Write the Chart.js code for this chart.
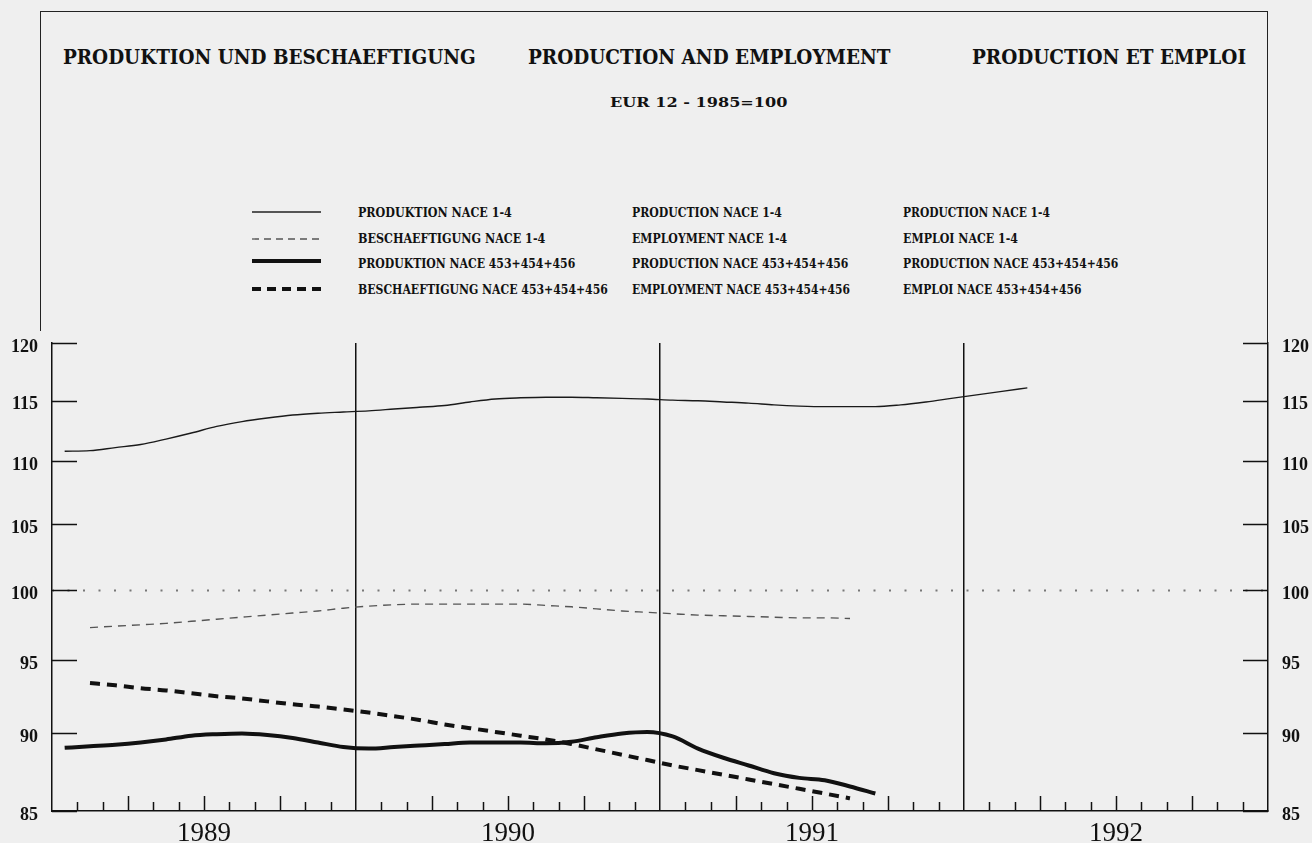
<!DOCTYPE html>
<html>
<head>
<meta charset="utf-8">
<script src="https://cdn.jsdelivr.net/npm/chart.js@4.4.1/dist/chart.umd.min.js"></script>
<style>
html,body{margin:0;padding:0;background:#efefef;width:1312px;height:843px;overflow:hidden;}
#wrap{position:relative;width:1312px;height:843px;}
#c{position:absolute;left:0;top:0;}
.t{position:absolute;white-space:nowrap;font-family:"DejaVu Serif",serif;font-weight:bold;color:#111;transform-origin:0 50%;}
.title{font-size:20px;line-height:24px;}
.sub{font-size:13px;line-height:16px;}
.leg{font-size:12px;line-height:14px;}
.frame{position:absolute;border-color:#222;border-style:solid;border-width:0;}
svg{position:absolute;left:0;top:0;}
</style>
</head>
<body>
<div id="wrap">
  <div class="frame" style="left:40px;top:11px;width:1228px;height:0;border-top-width:1.5px;"></div>
  <div class="frame" style="left:40px;top:11px;width:0;height:320px;border-left-width:1.5px;"></div>
  <div class="frame" style="left:1267px;top:11px;width:0;height:333px;border-left-width:1.5px;"></div>
  <div id="texts"></div>
  <svg id="samples" width="1312" height="843"></svg>
  <canvas id="c" width="1312" height="843"></canvas>
</div>
<script>
// ---------- data ----------
const TITLES = ['PRODUKTION UND BESCHAEFTIGUNG', 'PRODUCTION AND EMPLOYMENT', 'PRODUCTION ET EMPLOI'];
const SUBTITLE = 'EUR 12  -  1985=100';
const LABELS_DE = ['PRODUKTION NACE 1-4', 'BESCHAEFTIGUNG NACE 1-4', 'PRODUKTION NACE 453+454+456', 'BESCHAEFTIGUNG NACE 453+454+456'];
const LABELS_EN = ['PRODUCTION NACE 1-4', 'EMPLOYMENT NACE 1-4', 'PRODUCTION NACE 453+454+456', 'EMPLOYMENT NACE 453+454+456'];
const LABELS_FR = ['PRODUCTION NACE 1-4', 'EMPLOI NACE 1-4', 'PRODUCTION NACE 453+454+456', 'EMPLOI NACE 453+454+456'];
const YEARS = ['1989', '1990', '1991', '1992'];
const Y_TICKS = [85, 90, 95, 100, 105, 110, 115, 120];
const BASE_INDEX = 100;

// monthly values; first value belongs to the month index given by *_START (0 = Jan 1989)
const PROD_NACE14_START = 0;
const prodNace14 = [110.8, 110.85, 111.1, 111.35, 111.8, 112.3, 112.85, 113.25, 113.55, 113.8,
  113.95, 114.05, 114.15, 114.3, 114.45, 114.6, 114.9, 115.15, 115.25, 115.3,
  115.3, 115.25, 115.2, 115.15, 115.05, 115.0, 114.9, 114.8, 114.65, 114.55,
  114.5, 114.5, 114.5, 114.65, 114.9, 115.2, 115.5, 115.8, 116.1];

const EMP_NACE14_START = 1;
const empNace14 = [97.3, 97.4, 97.5, 97.6, 97.75, 97.9, 98.05, 98.2, 98.35, 98.5,
  98.7, 98.85, 98.95, 99.0, 99.0, 99.0, 99.0, 99.0, 98.9, 98.8,
  98.65, 98.5, 98.4, 98.3, 98.2, 98.15, 98.1, 98.05, 98.0, 98.0, 97.95];

const PROD_453_START = 0;
const prod453 = [89.05, 89.15, 89.25, 89.4, 89.6, 89.85, 89.95, 90.0, 89.9, 89.7,
  89.4, 89.1, 89.0, 89.1, 89.2, 89.3, 89.4, 89.4, 89.4, 89.35,
  89.45, 89.75, 90.0, 90.1, 89.8, 89.0, 88.4, 87.9, 87.4, 87.1,
  86.95, 86.55, 86.1];

const EMP_453_START = 1;
const emp453 = [93.4, 93.25, 93.05, 92.9, 92.7, 92.5, 92.35, 92.15, 91.95, 91.8,
  91.6, 91.4, 91.15, 90.9, 90.6, 90.35, 90.1, 89.85, 89.6, 89.3,
  88.95, 88.6, 88.25, 87.9, 87.6, 87.3, 87.0, 86.7, 86.4, 86.1, 85.8];

const N_MONTHS = YEARS.length * 12;

// ---------- texts (HTML) ----------
const texts = document.getElementById('texts');
function addText(str, cls, left, top, w) {
  const d = document.createElement('div');
  d.className = 't ' + cls;
  d.textContent = str;
  d.style.left = left + 'px';
  d.style.top = top + 'px';
  texts.appendChild(d);
  const nat = d.offsetWidth;
  if (nat > 0) d.style.transform = 'scaleX(' + (w / nat) + ')';
}
const titleLayout = [[63, 413], [528, 363], [972, 274]];
TITLES.forEach((s, i) => addText(s, 'title', titleLayout[i][0], 45, titleLayout[i][1]));
addText(SUBTITLE, 'sub', 610, 95, 177);

const rowY = [213, 239, 264, 290];
const colX = [358, 632, 903];
const legW = [[154, 150, 147], [187, 155, 115], [217, 216, 215], [250, 218, 179]];
[LABELS_DE, LABELS_EN, LABELS_FR].forEach((arr, c) => {
  arr.forEach((s, r) => addText(s, 'leg', colX[c], rowY[r] - 7, legW[r][c]));
});

// legend line samples
const styles = [
  {w: 1.3, color: '#222', dash: null},
  {w: 1.3, color: '#555', dash: '7 5'},
  {w: 4, color: '#111', dash: null},
  {w: 4, color: '#111', dash: '9 6'}
];
const sampleY = [212, 239, 261, 289];
const svg = document.getElementById('samples');
styles.forEach((st, r) => {
  const l = document.createElementNS('http://www.w3.org/2000/svg', 'line');
  l.setAttribute('x1', 252); l.setAttribute('x2', 321);
  l.setAttribute('y1', sampleY[r]); l.setAttribute('y2', sampleY[r]);
  l.setAttribute('stroke', st.color); l.setAttribute('stroke-width', st.w);
  if (st.dash) l.setAttribute('stroke-dasharray', st.dash);
  svg.appendChild(l);
});

// ---------- chart ----------
function toPoints(arr, start) {
  return arr.map((v, k) => ({x: start + k + 0.5, y: v}));
}

const innerTicks = {
  id: 'innerTicks',
  afterDatasetsDraw(chart) {
    const {ctx, chartArea: a} = chart;
    const x = chart.scales.x, y = chart.scales.y;
    ctx.save();
    ctx.strokeStyle = '#111';
    ctx.lineWidth = 1.5;
    ctx.beginPath();
    Y_TICKS.forEach(v => {
      const py = Math.round(y.getPixelForValue(v)) + 0.5;
      ctx.moveTo(a.left, py); ctx.lineTo(a.left + 25, py);
      ctx.moveTo(a.right - 25, py); ctx.lineTo(a.right, py);
    });
    for (let m = 1; m < N_MONTHS; m++) {
      if (m % 12 === 0) continue;
      const px = Math.round(x.getPixelForValue(m)) + 0.5;
      const h = (m % 3 === 0) ? 15 : 9;
      ctx.moveTo(px, a.bottom); ctx.lineTo(px, a.bottom - h);
    }
    ctx.stroke();
    ctx.restore();
  }
};

const yCommon = (pos, width) => ({
  type: 'logarithmic',
  position: pos,
  min: Y_TICKS[0],
  max: Y_TICKS[Y_TICKS.length - 1],
  afterBuildTicks: s => { s.ticks = Y_TICKS.map(v => ({value: v})); },
  afterFit: s => { s.width = width; },
  ticks: {
    padding: 14,
    labelOffset: 4,
    color: '#111',
    font: {family: 'Liberation Serif', size: 18, weight: 'bold'},
    callback: v => String(v)
  },
  grid: {drawOnChartArea: false, drawTicks: false},
  border: {display: true, color: '#111', width: 1.5}
});

new Chart(document.getElementById('c'), {
  type: 'line',
  data: {
    datasets: [
      {
        label: 'base',
        data: [{x: 0, y: BASE_INDEX}, {x: N_MONTHS, y: BASE_INDEX}],
        borderColor: '#777', borderWidth: 2, borderDash: [2, 13.5], tension: 0
      },
      {
        label: LABELS_EN[0],
        data: toPoints(prodNace14, PROD_NACE14_START),
        borderColor: '#1a1a1a', borderWidth: 1.4, tension: 0.4, cubicInterpolationMode: 'monotone'
      },
      {
        label: LABELS_EN[1],
        data: toPoints(empNace14, EMP_NACE14_START),
        borderColor: '#555', borderWidth: 1.4, borderDash: [8, 6], tension: 0.4, cubicInterpolationMode: 'monotone'
      },
      {
        label: LABELS_EN[2],
        data: toPoints(prod453, PROD_453_START),
        borderColor: '#111', borderWidth: 4, tension: 0.4, cubicInterpolationMode: 'monotone'
      },
      {
        label: LABELS_EN[3],
        data: toPoints(emp453, EMP_453_START),
        borderColor: '#111', borderWidth: 4, borderDash: [10, 7], tension: 0.4, cubicInterpolationMode: 'monotone'
      }
    ]
  },
  options: {
    responsive: false,
    animation: false,
    layout: {padding: {top: 343, left: 0, right: 0, bottom: 0}},
    elements: {point: {radius: 0}},
    plugins: {legend: {display: false}, tooltip: {enabled: false}, title: {display: false}},
    scales: {
      x: {
        type: 'linear',
        position: 'bottom',
        min: 0,
        max: N_MONTHS,
        afterBuildTicks: s => {
          const t = [];
          for (let m = 0; m <= N_MONTHS; m++) t.push({value: m});
          s.ticks = t;
        },
        afterFit: s => { s.height = 32; },
        ticks: {
          autoSkip: false, maxRotation: 0, minRotation: 0, padding: 7,
          color: '#111',
          font: {family: 'Liberation Serif', size: 27},
          callback: v => (v % 12 === 6) ? YEARS[(v - 6) / 12] : ''
        },
        grid: {
          drawTicks: false,
          drawOnChartArea: true,
          lineWidth: 1.5,
          color: c => (c.tick && c.tick.value % 12 === 0 && c.tick.value > 0 && c.tick.value < N_MONTHS) ? '#111' : 'rgba(0,0,0,0)'
        },
        border: {display: true, color: '#111', width: 1.5}
      },
      y: yCommon('left', 52),
      y2: yCommon('right', 44)
    }
  },
  plugins: [innerTicks]
});
</script>
</body>
</html>
